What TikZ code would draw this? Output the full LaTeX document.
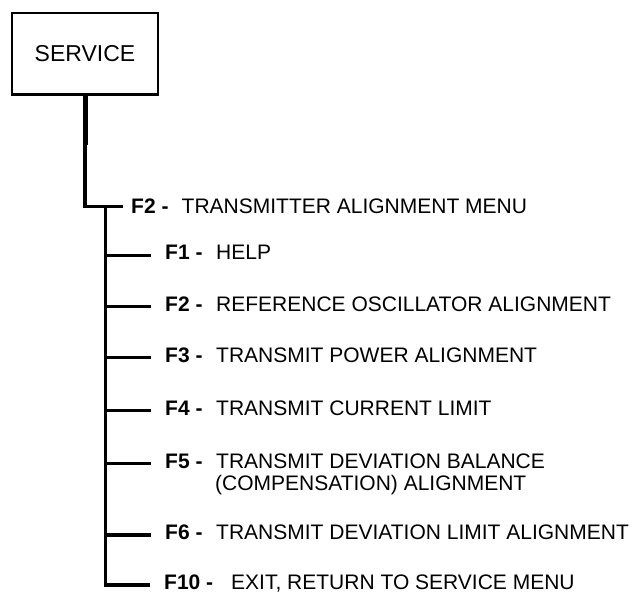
\documentclass[tikz,border=0pt]{standalone}
\usepackage{fontspec}
\setsansfont{Liberation Sans}
\usepackage{tikz}
\usetikzlibrary{positioning}

\tikzset{
  menubox/.style={draw, line width=2.3pt, minimum width=146pt, minimum height=81.5pt, inner sep=0pt, font=\fontsize{23}{26}\selectfont\sffamily},
  fkey/.style={anchor=west, inner xsep=14pt, inner ysep=0pt, text height=15pt, text depth=6pt, font=\fontsize{21}{23}\selectfont\sffamily\bfseries},
  fdesc/.style={anchor=base west, inner sep=0pt},
  tree/.style={line width=3.2pt, line join=miter},
}

\begin{document}
\begin{tikzpicture}[x=1pt,y=-1pt,font=\fontsize{21}{23}\selectfont\sffamily]
			\useasboundingbox (0,0) rectangle (639,593);
			\node[menubox] (service) at (85,53.75) {SERVICE};
			% top level entry
			\coordinate (mid) at (85,145);
			\coordinate (elbow) at (85,206.7);
			\node[fkey, inner xsep=8pt, text depth=0.4pt] (k0) at (123,206.7) {F2 -};
			\node[fdesc] (d0) at (181.5,214) {TRANSMITTER ALIGNMENT MENU};
			\draw[line width=5pt] (service.south) -- (mid);
			\draw[tree] (mid) -- (elbow) -- (k0.west);
			% submenu entries
			\node[fkey] (k1) at (151,255.5) {F1 -};
			\node[fdesc] (d1) at (216,260) {HELP};
			\node[fkey] (k2) at (151,306.5) {F2 -};
			\node[fdesc] (d2) at (216,311) {REFERENCE OSCILLATOR ALIGNMENT};
			\node[fkey] (k3) at (151,357.5) {F3 -};
			\node[fdesc] (d3) at (216,362) {TRANSMIT POWER ALIGNMENT};
			\node[fkey] (k4) at (151,410.5) {F4 -};
			\node[fdesc] (d4) at (216,415) {TRANSMIT CURRENT LIMIT};
			\node[fkey] (k5) at (151,463.5) {F5 -};
			\node[fdesc] (d5) at (216,468) {TRANSMIT DEVIATION BALANCE};
			\node[fdesc] (d5b) at (215,490.5) {(COMPENSATION) ALIGNMENT};
			\node[fkey] (k6) at (151,535) {F6 -};
			\node[fdesc] (d6) at (216,539.5) {TRANSMIT DEVIATION LIMIT ALIGNMENT};
			\node[fkey] (k10) at (150,585) {F10 -};
			\node[fdesc] (d10) at (231,589.5) {EXIT, RETURN TO SERVICE MENU};
			% trunk and branches
			\coordinate (t0) at (105.5,206.7);
			\coordinate (t10) at (105.5,585);
			\draw[tree] (t0) -- (t10) -- (k10.west);
			\foreach \k in {1,...,6}
				\draw[tree] (k\k.west -| t0) -- (k\k.west);
		\end{tikzpicture}
\end{document}
